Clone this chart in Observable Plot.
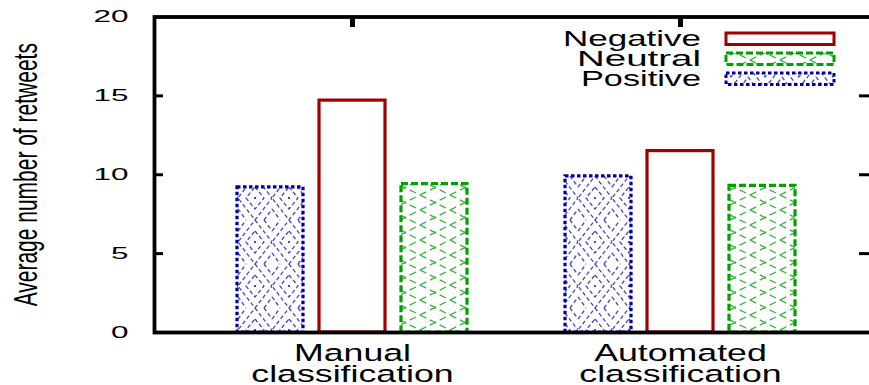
<!DOCTYPE html>
<html><head><meta charset="utf-8">
<script src="https://cdn.jsdelivr.net/npm/d3@7"></script>
<script src="https://cdn.jsdelivr.net/npm/@observablehq/plot@0.6"></script>
<style>
html,body{margin:0;padding:0;background:#fff;overflow:hidden;}
#defs{position:absolute;width:0;height:0;}
</style></head><body>
<svg id="defs" width="0" height="0">
  <defs>
    <pattern id="pat-positive" patternUnits="userSpaceOnUse" width="34" height="44" x="0" y="0">
      <rect width="34" height="44" fill="white"/>
      <path d="M17,0 L34,22 L17,44 L0,22 Z M17,11 L26,22 L17,33 L8,22 Z M0,11 L8,0 M26,0 L34,11 M0,33 L8,44 M26,44 L34,33" fill="none" stroke="#4646c8" stroke-width="1.3" stroke-dasharray="4,2.5"/>
      <path d="M16,21 h2 v2 h-2 Z" fill="#4646c8"/>
    </pattern>
    <pattern id="pat-neutral" patternUnits="userSpaceOnUse" width="30" height="30" x="0" y="0">
      <rect width="30" height="30" fill="white"/>
      <path d="M0,0 L30,15 M0,15 L30,0 M0,15 L30,30 M0,30 L30,15" fill="none" stroke="#3cb43c" stroke-width="1.3" stroke-dasharray="7,4"/>
    </pattern>
  </defs>
</svg>
<div id="chart"></div>
<script>
// ---- data ----
const groups = ["Manual\nclassification", "Automated\nclassification"];
const barOrder = ["Positive", "Negative", "Neutral"];      // order of bars inside a group
const legendOrder = ["Negative", "Neutral", "Positive"];   // order in the legend
const negative = [14.7, 11.5];
const neutral = [9.4, 9.3];
const positive = [9.2, 9.9];
const yTicks = [0, 5, 10, 15, 20];
const yLabel = "Average number of retweets";

// ---- styles ----
const seriesStyle = {
  Negative: {stroke: "#a00000", dash: null, fill: "white"},
  Neutral:  {stroke: "#00a000", dash: "7,3", fill: "url(#pat-neutral)"},
  Positive: {stroke: "#0000a0", dash: "3.5,2.5", fill: "url(#pat-positive)"}
};
const legendTextLength = {Negative: 138, Neutral: 124, Positive: 120};

const valuesBySeries = {Negative: negative, Neutral: neutral, Positive: positive};
const key = (g, s) => `${g}|${s}`;
const slots = [];
groups.forEach((g, gi) => {
  if (gi > 0) slots.push(`gap${gi}`);
  barOrder.forEach(s => slots.push(key(g, s)));
});
const rows = s => groups.map((g, i) => ({slot: key(g, s), series: s, value: valuesBySeries[s][i]}));
const centerTicks = groups.map(g => key(g, "Negative"));

const W = 872, H = 385, ML = 154, MT = 16.5, MB = 53;
const innerW = W - ML;

const plot = Plot.plot({
  width: W, height: H,
  marginLeft: ML, marginRight: 0, marginTop: MT, marginBottom: MB,
  style: {fontFamily: "'Liberation Sans', Arial, Helvetica, sans-serif", background: "white", maxWidth: "none", color: "black"},
  x: {type: "band", domain: slots, paddingInner: 0.2, paddingOuter: 0.95, align: 0.52, axis: null},
  y: {domain: [0, 20], axis: null},
  marks: [
    ...barOrder.map(s => Plot.barY(rows(s), {
      x: "slot", y: "value", fill: "white",
      stroke: seriesStyle[s].stroke, strokeWidth: 3.2,
      strokeDasharray: seriesStyle[s].dash
    })),
    Plot.frame({stroke: "black", strokeWidth: 3.8}),
    Plot.tickY(yTicks.slice(1, -1), {y: d => d, stroke: "black", strokeWidth: 3, insetRight: innerW - 9}),
    Plot.tickY(yTicks.slice(1, -1), {y: d => d, stroke: "black", strokeWidth: 3, insetLeft: innerW - 13}),
    Plot.tickX(centerTicks, {x: d => d, stroke: "black", strokeWidth: 5, insetBottom: 305}),
    Plot.axisY({ticks: yTicks, tickSize: 0, tickPadding: 26, fontSize: 17, label: null}),
    Plot.axisX({ticks: centerTicks, tickSize: 0, tickPadding: 13, fontSize: 23.5, lineHeight: 0.92,
      tickFormat: d => d.split("|")[0], label: null}),
    Plot.text([yLabel], {text: d => d, frameAnchor: "left", rotate: -90, dx: -128, fontSize: 21,
      lineAnchor: "middle", textAnchor: "middle"})
  ]
});
document.getElementById("chart").appendChild(plot);

const svg = d3.select(plot);
// patterned fills
svg.selectAll('g[aria-label="bar"]').each(function(_, i) {
  d3.select(this).attr("fill", seriesStyle[barOrder[i]].fill);
});
// stretching of text (reference glyphs are wide)
function stretch(sel, sx, sy) {
  sel.each(function() {
    const t = d3.select(this);
    let tr = t.attr("transform");
    if (!tr) {
      const x = +t.attr("x") || 0, y = +t.attr("y") || 0;
      t.attr("x", null).attr("y", null);
      tr = `translate(${x},${y})`;
    }
    t.attr("transform", `${tr} scale(${sx},${sy})`);
  });
}
stretch(svg.selectAll('g[aria-label="y-axis tick label"] text'), 1.85, 1);
stretch(svg.selectAll('g[aria-label="x-axis tick label"] text'), 1.52, 1);
stretch(svg.selectAll('g[aria-label="text"] text'), 1, 1.6);

// legend (inside the plot, top right)
const lg = svg.append("g").attr("font-family", "'Liberation Sans', Arial, sans-serif");
legendOrder.forEach((s, i) => {
  lg.append("text")
    .attr("x", 701).attr("y", 46 + 20 * i)
    .attr("text-anchor", "end").attr("font-size", 22)
    .attr("textLength", legendTextLength[s]).attr("lengthAdjust", "spacingAndGlyphs")
    .attr("fill", "black").text(s);
  lg.append("rect")
    .attr("x", 726).attr("y", 33 + 20 * i).attr("width", 108).attr("height", 11.5)
    .attr("fill", seriesStyle[s].fill).attr("stroke", seriesStyle[s].stroke)
    .attr("stroke-width", 3).attr("stroke-dasharray", seriesStyle[s].dash);
});
</script>
</body></html>
